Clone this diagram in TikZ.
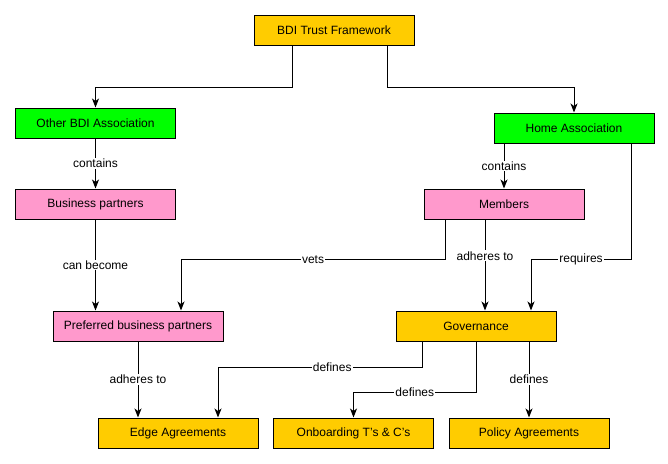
\documentclass[tikz,border=0pt]{standalone}
\usepackage{fontspec}
\setmainfont{Liberation Sans}
\usetikzlibrary{arrows.meta}

\definecolor{boxorange}{HTML}{FFCC00}
\definecolor{boxgreen}{HTML}{00FF00}
\definecolor{boxpink}{HTML}{FF99CC}

\begin{document}
\begin{tikzpicture}[x=1pt, y=-1pt, >={Stealth[length=9pt,width=7pt,inset=2.5pt]},
    font=\fontsize{12}{14}\selectfont,
    box/.style={draw=black, line width=1pt, minimum width=160pt, minimum height=30pt, inner sep=0pt},
    orangebox/.style={box, fill=boxorange},
    greenbox/.style={box, fill=boxgreen},
    pinkbox/.style={box, fill=boxpink},
    lbl/.style={fill=white, inner sep=1pt},
    arr/.style={->, line width=1pt}]

    \useasboundingbox (0,0) rectangle (668,463);

    % Top
    \node[orangebox] (trust) at (334,30.5) {BDI Trust Framework};

    % Associations
    \node[greenbox] (other) at (95.5,123) {Other BDI Association};
    \node[greenbox] (home) at (574,128) {Home Association};

    % Partners and members
    \node[pinkbox] (busp) at (95.5,204) {Business partners};
    \node[pinkbox] (members) at (504,204) {Members};
    \node[pinkbox, minimum width=170pt] (pref) at (138,326) {Preferred business partners};
    \node[orangebox] (gov) at (476,326) {Governance};

    % Agreements
    \node[orangebox] (edge) at (178,433) {Edge Agreements};
    \node[orangebox] (onb) at (353.5,433) {Onboarding T's \& C's};
    \node[orangebox] (policy) at (529,433) {Policy Agreements};

    % Connectors
    \draw[arr] ([xshift=-42pt]trust.south) -- ++(0,41.5) -| (other.north);
    \draw[arr] ([xshift=53pt]trust.south) -- ++(0,41.5) -| (home.north);
    \draw[arr] (other.south) -- node[lbl] {contains} (busp.north);
    \draw[arr] (members.north |- home.south) -- node[lbl] {contains} (members.north);
    \draw[arr] ([xshift=57pt]home.south) -- ++(0,116) -| node[lbl, pos=0.25] {requires} ([xshift=55pt]gov.north);
    \draw[arr] ([xshift=-59pt]members.south) -- ++(0,40) -| node[lbl, pos=0.25] {vets} ([xshift=43pt]pref.north);
    \draw[arr] ([xshift=-19pt]members.south) -- node[lbl, pos=0.4] {adheres to} ([xshift=9pt]gov.north);
    \draw[arr] (busp.south) -- node[lbl] {can become} ([xshift=-42.5pt]pref.north);
    \draw[arr] (pref.south) -- node[lbl] {adheres to} ([xshift=-40pt]edge.north);
    \draw[arr] ([xshift=-54pt]gov.south) -- ++(0,26) -| node[lbl, pos=0.22] {defines} ([xshift=40pt]edge.north);
    \draw[arr] (gov.south) -- ++(0,51) -| node[lbl, pos=0.25] {defines} (onb.north);
    \draw[arr] ([xshift=53pt]gov.south) -- node[lbl] {defines} ([xshift=0pt]policy.north);
\end{tikzpicture}
\end{document}
